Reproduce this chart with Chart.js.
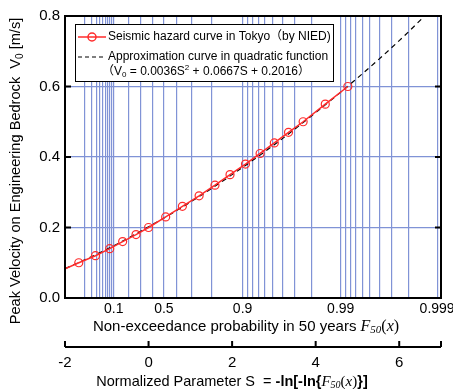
<!DOCTYPE html>
<html>
<head>
<meta charset="utf-8">
<script src="https://cdn.jsdelivr.net/npm/chart.js@4.4.0/dist/chart.umd.min.js"></script>
<style>
html, body { margin: 0; padding: 0; background: #fff; }
</style>
</head>
<body>
<canvas id="chart" width="453" height="389"></canvas>
<script>
// seismic hazard curve, normalized parameter S vs V0 [m/s]
const hazardS = [-2.0, -1.67, -1.27, -0.93, -0.62, -0.30, 0.00, 0.41, 0.81, 1.21, 1.59, 1.95, 2.32, 2.67, 3.01, 3.35, 3.70, 4.23, 4.77]
const hazardV = [0.083, 0.10, 0.12, 0.14, 0.16, 0.18, 0.20, 0.23, 0.26, 0.29, 0.32, 0.35, 0.38, 0.41, 0.44, 0.47, 0.50, 0.55, 0.60]
// approximation curve (dashed)
const approxS = [-2.0, -1.0, 0.0, 1.0, 2.0, 3.0, 4.0, 5.0, 6.0, 6.61]
const approxV = [0.083, 0.138, 0.202, 0.272, 0.350, 0.434, 0.526, 0.624, 0.730, 0.80]

// probability grid of the top (Gumbel) axis
const probGrid = [0.01, 0.02, 0.03, 0.04, 0.05, 0.06, 0.07, 0.08, 0.09,
    0.1, 0.2, 0.3, 0.4, 0.5, 0.6, 0.7, 0.8,
    0.9, 0.91, 0.92, 0.93, 0.94, 0.95, 0.96, 0.97, 0.98,
    0.99, 0.991, 0.992, 0.993, 0.994, 0.995, 0.996, 0.997, 0.998, 0.999]
const probLabels = ['0.1', '0.5', '0.9', '0.99', '0.999']
const sTicks = [-2, 0, 2, 4, 6]
const vTicks = [0, 0.2, 0.4, 0.6, 0.8]

const SANS = '"Liberation Sans", Arial, "Noto Sans CJK JP", sans-serif'
const SERIF = '"Liberation Serif", "Times New Roman", serif'
const gridBlue = '#8093d6'
const red = '#ff2b2b'

function gumbel(p) { return -Math.log(-Math.log(p)) }

function pts(xs, ys) {
    return xs.map((x, i) => ({ x: x, y: ys[i] }))
}

// draws a row of text pieces with different fonts, centred on x
function drawRuns(ctx, runs, x, y) {
    let w = 0
    runs.forEach(r => { ctx.font = r.font; w += ctx.measureText(r.t).width })
    drawRunsLeft(ctx, runs, x - w / 2, y)
}
function drawRunsLeft(ctx, runs, x, y) {
    let cx = x
    runs.forEach(r => {
        ctx.font = r.font
        ctx.fillText(r.t, cx, y + (r.dy || 0))
        cx += ctx.measureText(r.t).width
    })
}

function f50(size) {
    return [
        { t: 'F', font: 'italic ' + size + 'px ' + SERIF },
        { t: '50', font: 'italic ' + (size - 5) + 'px ' + SERIF, dy: 3 },
        { t: '(', font: size + 'px ' + SERIF },
        { t: 'x', font: 'italic ' + size + 'px ' + SERIF },
        { t: ')', font: size + 'px ' + SERIF }
    ]
}

const decor = {
    id: 'decor',
    afterDraw(chart) {
        const ctx = chart.ctx
        const a = chart.chartArea
        const ys = chart.scales.y
        const x2 = chart.scales.x2
        ctx.save()
        ctx.strokeStyle = '#000'
        ctx.lineWidth = 2
        ctx.strokeRect(a.left, a.top, a.right - a.left, a.bottom - a.top)

        // inward tick marks
        ctx.beginPath()
        vTicks.slice(1, -1).forEach(v => {
            const y = ys.getPixelForValue(v)
            ctx.moveTo(a.left, y); ctx.lineTo(a.left + 6, y)
            ctx.moveTo(a.right, y); ctx.lineTo(a.right - 6, y)
        })
        const by = x2.top + 1
        ctx.moveTo(a.left, by); ctx.lineTo(a.right, by)
        sTicks.concat([7]).forEach(s => {
            const x = x2.getPixelForValue(s)
            ctx.moveTo(x, by); ctx.lineTo(x, by - 6)
        })
        ctx.stroke()

        // legend
        const lx = 75, ly = 24
        ctx.fillStyle = '#fff'
        ctx.fillRect(lx, ly, 258, 57)
        ctx.lineWidth = 1
        ctx.strokeRect(lx + 0.5, ly + 0.5, 258, 57)
        ctx.strokeStyle = red
        ctx.lineWidth = 1.5
        ctx.beginPath(); ctx.moveTo(78, 37); ctx.lineTo(106, 37); ctx.stroke()
        ctx.beginPath(); ctx.arc(92, 37, 4, 0, Math.PI * 2); ctx.stroke()
        ctx.strokeStyle = '#000'
        ctx.lineWidth = 1.2
        ctx.setLineDash([4, 3])
        ctx.beginPath(); ctx.moveTo(78, 57); ctx.lineTo(104, 57); ctx.stroke()
        ctx.setLineDash([])
        ctx.fillStyle = '#000'
        ctx.textBaseline = 'middle'
        ctx.textAlign = 'left'
        const lf = '12px ' + SANS
        drawRunsLeft(ctx, [{ t: 'Seismic hazard curve in Tokyo（by NIED)', font: lf }], 108, 37)
        drawRunsLeft(ctx, [{ t: 'Approximation curve in quadratic function', font: lf }], 108, 57)
        drawRunsLeft(ctx, [
            { t: '（V', font: lf },
            { t: '0', font: '8px ' + SANS, dy: 3 },
            { t: ' = 0.0036S', font: lf },
            { t: '2', font: '8px ' + SANS, dy: -4 },
            { t: ' + 0.0667S + 0.2016）', font: lf }
        ], 102, 72)

        // axis titles
        drawRuns(ctx, [{ t: 'Non-exceedance probability in 50 years ', font: '15px ' + SANS }].concat(f50(16)), 246, 327)
        drawRuns(ctx, [
            { t: 'Normalized Parameter S  = ', font: '14.5px ' + SANS },
            { t: '-ln[-ln{', font: 'bold 14.5px ' + SANS }
        ].concat(f50(15), [{ t: '}]', font: 'bold 14.5px ' + SANS }]), 232, 382)

        ctx.translate(16, 171)
        ctx.rotate(-Math.PI / 2)
        drawRuns(ctx, [
            { t: 'Peak Velocity on Engineering Bedrock  V', font: '14.6px ' + SANS },
            { t: '0', font: '10px ' + SANS, dy: 4 },
            { t: ' [m/s]', font: '14.6px ' + SANS }
        ], 0, 0)
        ctx.restore()
    }
}

const config = {
    type: 'line',
    data: {
        datasets: [{
            label: 'Seismic hazard curve in Tokyo',
            data: pts(hazardS, hazardV),
            borderColor: red,
            borderWidth: 1.5,
            pointRadius: hazardS.map((s, i) => i === 0 ? 0 : 4),
            pointBorderColor: red,
            pointBackgroundColor: 'rgba(0,0,0,0)',
            pointBorderWidth: 1.2,
            tension: 0
        }, {
            label: 'Approximation curve',
            data: pts(approxS, approxV),
            borderColor: '#000',
            borderWidth: 1.2,
            borderDash: [5, 4],
            pointRadius: 0,
            cubicInterpolationMode: 'monotone'
        }]
    },
    options: {
        responsive: false,
        animation: false,
        devicePixelRatio: 1,
        layout: { padding: { top: 16, right: 12, left: 0, bottom: 0 } },
        plugins: { legend: { display: false }, tooltip: { enabled: false } },
        scales: {
            y: {
                min: 0, max: 0.8,
                afterBuildTicks: s => { s.ticks = vTicks.map(v => ({ value: v })) },
                afterFit: s => { s.width = 65 },
                ticks: { callback: v => v.toFixed(1), font: { family: SANS, size: 15 }, color: '#000', padding: 5 },
                grid: { color: gridBlue, lineWidth: 1.2, drawTicks: false },
                border: { display: false }
            },
            x: {
                type: 'linear', position: 'bottom', weight: 0,
                min: -2, max: 7,
                afterBuildTicks: s => { s.ticks = probGrid.map(p => ({ value: gumbel(p) })) },
                afterFit: s => { s.height = 48; s.paddingLeft = 0; s.paddingRight = 0 },
                ticks: {
                    autoSkip: false, maxRotation: 0, padding: 3,
                    font: { family: SANS, size: 14 }, color: '#000',
                    callback: (v, i) => {
                        const lab = String(probGrid[i])
                        return probLabels.includes(lab) ? lab : ''
                    }
                },
                grid: { color: gridBlue, lineWidth: 1.2, drawTicks: false },
                border: { display: false }
            },
            x2: {
                type: 'linear', position: 'bottom', weight: 1,
                min: -2, max: 7,
                afterBuildTicks: s => { s.ticks = sTicks.map(v => ({ value: v })) },
                afterFit: s => { s.height = 43; s.paddingLeft = 0; s.paddingRight = 0 },
                ticks: { maxRotation: 0, padding: 8, font: { family: SANS, size: 15 }, color: '#000' },
                grid: { drawOnChartArea: false, drawTicks: false, display: false },
                border: { display: false }
            }
        }
    },
    plugins: [decor]
}

new Chart(document.getElementById('chart'), config)
</script>
</body>
</html>
